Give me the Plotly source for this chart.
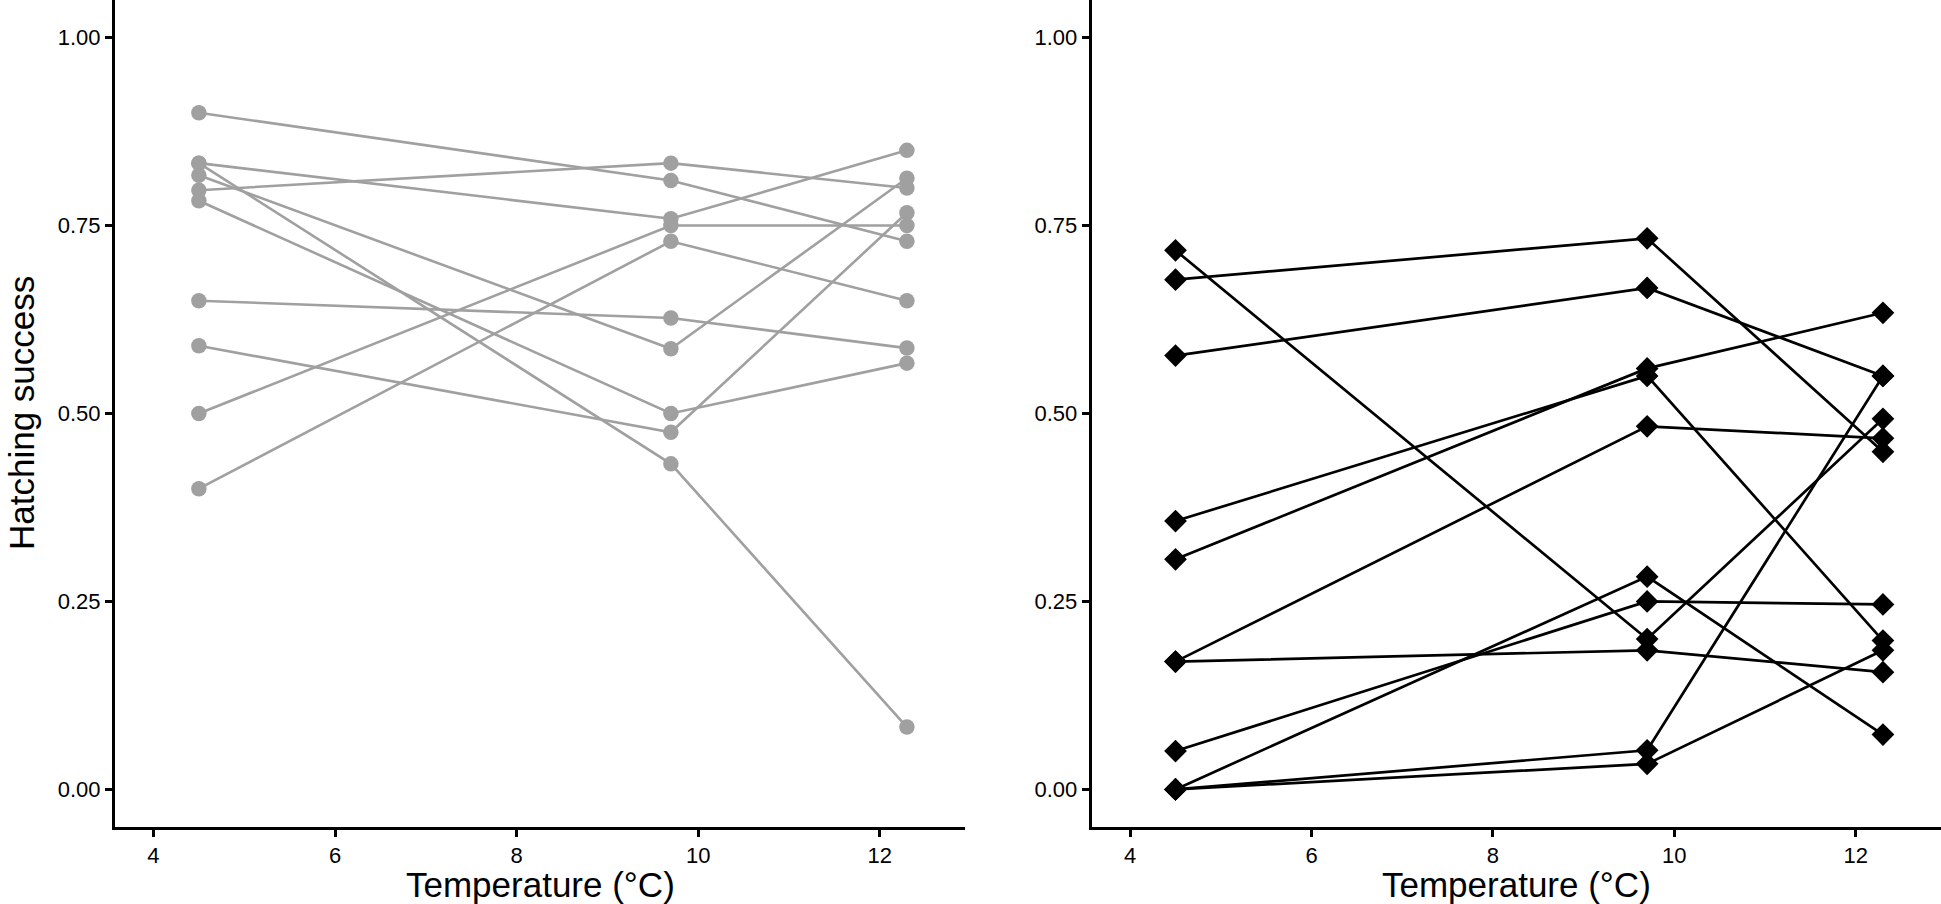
import plotly.graph_objects as go

# Temperatures (°C) at which hatching success was measured
temperatures = [4.5, 9.7, 12.3]

# Left panel: hatching success per line (values at 4.5, 9.7, 12.3 °C)
left_lines = [
    [0.900, 0.810, 0.729],
    [0.833, 0.759, 0.850],
    [0.797, 0.833, 0.800],
    [0.817, 0.586, 0.813],
    [0.833, 0.433, 0.083],
    [0.783, 0.500, 0.567],
    [0.650, 0.627, 0.587],
    [0.590, 0.475, 0.767],
    [0.500, 0.750, 0.750],
    [0.400, 0.729, 0.650],
]

# Right panel: hatching success per line (values at 4.5, 9.7, 12.3 °C)
right_lines = [
    [0.717, 0.200, 0.493],
    [0.678, 0.733, 0.449],
    [0.577, 0.667, 0.550],
    [0.357, 0.550, 0.198],
    [0.306, 0.560, 0.634],
    [0.170, 0.483, 0.467],
    [0.170, 0.185, 0.156],
    [0.051, 0.250, 0.246],
    [0.000, 0.283, 0.073],
    [0.000, 0.052, 0.550],
    [0.000, 0.034, 0.185],
]

y_ticks = [0.0, 0.25, 0.5, 0.75, 1.0]
x_ticks = [4, 6, 8, 10, 12]
x_title = "Temperature (°C)"
y_title = "Hatching success"

GREY = "#A0A0A0"
BLACK = "#000000"
FONT = "Liberation Sans, Arial, Helvetica, sans-serif"

fig = go.Figure()

def add_panel(lines, xa, ya, color, symbol, msize, lw):
    for vals in lines:
        fig.add_trace(go.Scatter(x=temperatures, y=vals, mode="lines",
                                 line=dict(color=color, width=lw),
                                 xaxis=xa, yaxis=ya, showlegend=False,
                                 hoverinfo="skip"))
    xs, ys = [], []
    for vals in lines:
        xs += temperatures
        ys += vals
    fig.add_trace(go.Scatter(x=xs, y=ys, mode="markers",
                             marker=dict(color=color, size=msize, symbol=symbol,
                                         line=dict(width=0)),
                             xaxis=xa, yaxis=ya, showlegend=False))

add_panel(left_lines, "x", "y", GREY, "circle", 15.5, 2.6)
add_panel(right_lines, "x2", "y2", BLACK, "diamond", 17.5, 2.7)

W, H = 1941, 904
B = 77
PH = H - B  # plot-area height in px
axis_common = dict(showline=True, linecolor="black", linewidth=3,
                   ticks="outside", ticklen=7, tickwidth=2.5, tickcolor="black",
                   showgrid=False, zeroline=False, automargin=False,
                   tickfont=dict(family=FONT, size=22, color="black"))

xrange = [3.576, 12.94]
yrange = [-0.05, 1.05]
left_dom = [115 / W, 965 / W]
right_dom = [1091.7 / W, 1.0]

fig.update_layout(
    width=W, height=H,
    margin=dict(l=0, r=0, t=0, b=B),
    paper_bgcolor="white", plot_bgcolor="white",
    font=dict(family=FONT, color="black"),
    xaxis=dict(domain=left_dom, range=xrange, tickvals=x_ticks,
               anchor="y", **axis_common),
    yaxis=dict(domain=[0, 1], range=yrange, tickvals=y_ticks, tickformat=".2f",
               anchor="x", **axis_common),
    xaxis2=dict(domain=right_dom, range=xrange, tickvals=x_ticks,
                anchor="y2", **axis_common),
    yaxis2=dict(domain=[0, 1], range=yrange, tickvals=y_ticks, tickformat=".2f",
                anchor="x2", **axis_common),
)

title_y = (PH - 884) / PH
for dom in (left_dom, right_dom):
    fig.add_annotation(text=x_title, xref="paper", yref="paper",
                       x=(dom[0] + dom[1]) / 2, y=title_y,
                       xanchor="center", yanchor="middle", showarrow=False,
                       font=dict(family=FONT, size=35, color="black"))
fig.add_annotation(text=y_title, xref="paper", yref="paper",
                   x=21.5 / W, y=0.5, textangle=-90,
                   xanchor="center", yanchor="middle", showarrow=False,
                   font=dict(family=FONT, size=35, color="black"))

fig.write_html("out.html", config={"displayModeBar": False},
               post_script="document.body.style.margin='0';")
